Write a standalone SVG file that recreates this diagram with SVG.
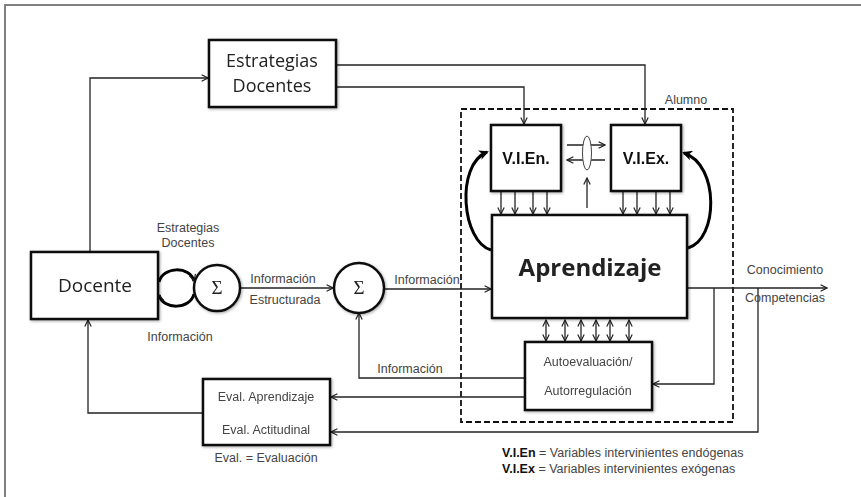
<svg xmlns="http://www.w3.org/2000/svg" width="861" height="497" viewBox="0 0 861 497">
<defs>
<style>
.box{fill:#fff;stroke:#111;stroke-width:2.5}
.ln{fill:none;stroke:#222;stroke-width:1.3}
.thk{fill:none;stroke:#000;stroke-width:3}
.big{font-family:"Open Sans","Noto Sans",sans-serif;fill:#222;text-anchor:middle}
.lbl{font-family:"Liberation Sans",Arial,sans-serif;font-size:12.5px;fill:#444}
.mid{text-anchor:middle}
.bold{font-family:"Liberation Sans",Arial,sans-serif;font-weight:bold;fill:#111;text-anchor:middle}
.sig{font-family:"Liberation Serif","DejaVu Serif",serif;font-size:19px;fill:#222;text-anchor:middle}
</style>
<marker id="a" viewBox="0 0 10 10" refX="9" refY="5" markerWidth="8" markerHeight="8" orient="auto-start-reverse" markerUnits="userSpaceOnUse">
<path d="M1,1 L9,5 L1,9" fill="none" stroke="#222" stroke-width="1.5"/>
</marker>
<marker id="t" viewBox="0 0 10 10" refX="8" refY="5" markerWidth="10" markerHeight="10" orient="auto" markerUnits="userSpaceOnUse">
<path d="M0,0 L10,5 L0,10 L3,5 Z" fill="#000"/>
</marker>
<filter id="sh" x="-10%" y="-10%" width="120%" height="120%">
<feGaussianBlur in="SourceAlpha" stdDeviation="1.5"/>
<feOffset dx="1" dy="1"/>
<feComponentTransfer><feFuncA type="linear" slope="0.35"/></feComponentTransfer>
<feMerge><feMergeNode/><feMergeNode in="SourceGraphic"/></feMerge>
</filter>
</defs>
<rect width="861" height="497" fill="#fff"/>
<path d="M5,497 V5 H861" fill="none" stroke="#808080" stroke-width="2"/>

<g id="alumno">
<rect x="461" y="109" width="272" height="313" fill="none" stroke="#111" stroke-width="1.8" stroke-dasharray="6,3"/>
<text class="lbl mid" x="686" y="104">Alumno</text>
</g>

<g id="connectors">
<path class="ln" d="M90,252 V78 H208" marker-end="url(#a)"/>
<path class="ln" d="M336,65 H645 V124" marker-end="url(#a)"/>
<path class="ln" d="M336,87 H524 V124" marker-end="url(#a)"/>
<path class="ln" d="M567,145 H605" marker-end="url(#a)"/>
<path class="ln" d="M605,160 H567" marker-end="url(#a)"/>
<path class="ln" d="M587,208 V178" marker-end="url(#a)"/>
<ellipse cx="587" cy="153" rx="4.5" ry="17" fill="#fff" stroke="#444" stroke-width="1"/>
<path class="ln" d="M501,192 V214" marker-end="url(#a)"/>
<path class="ln" d="M515,192 V214" marker-end="url(#a)"/>
<path class="ln" d="M533,192 V214" marker-end="url(#a)"/>
<path class="ln" d="M547,192 V214" marker-end="url(#a)"/>
<path class="ln" d="M623,192 V214" marker-end="url(#a)"/>
<path class="ln" d="M637,192 V214" marker-end="url(#a)"/>
<path class="ln" d="M656,192 V214" marker-end="url(#a)"/>
<path class="ln" d="M670,192 V214" marker-end="url(#a)"/>
<path class="thk" d="M491,250 C462,242 455,165 487,152" marker-end="url(#t)"/>
<path class="thk" d="M688,248 C718,240 720,165 684,153" marker-end="url(#t)"/>
<path class="ln" d="M546,320 V341" marker-start="url(#a)" marker-end="url(#a)"/>
<path class="ln" d="M565,320 V341" marker-start="url(#a)" marker-end="url(#a)"/>
<path class="ln" d="M581,320 V341" marker-start="url(#a)" marker-end="url(#a)"/>
<path class="ln" d="M596,320 V341" marker-start="url(#a)" marker-end="url(#a)"/>
<path class="ln" d="M610,320 V341" marker-start="url(#a)" marker-end="url(#a)"/>
<path class="ln" d="M629,320 V341" marker-start="url(#a)" marker-end="url(#a)"/>
<path class="thk" d="M159,282 C163,266 190,266 194,281" marker-end="url(#a)"/>
<path class="thk" d="M194,294 C190,310 163,310 159,295" marker-end="url(#a)"/>
<path class="ln" d="M240,288 H333" marker-end="url(#a)"/>
<path class="ln" d="M383,289 H491" marker-end="url(#a)"/>
<path class="ln" d="M524,378 H359 V313" marker-end="url(#a)"/>
<path class="ln" d="M524,397 H331" marker-end="url(#a)"/>
<path class="ln" d="M688,288 H827" marker-end="url(#a)"/>
<path class="ln" d="M714,288 V384 H653" marker-end="url(#a)"/>
<path class="ln" d="M758,288 V432 H331" marker-end="url(#a)"/>
<path class="ln" d="M202,413 H88 V320" marker-end="url(#a)"/>
</g>

<g id="estrategias" filter="url(#sh)">
<rect class="box" x="209" y="40" width="127" height="67"/>
<text class="big" x="272" y="67" font-size="18">Estrategias</text>
<text class="big" x="272" y="92" font-size="18">Docentes</text>
</g>

<g id="vien" filter="url(#sh)">
<rect class="box" x="491" y="125" width="70" height="66"/>
<text class="bold" x="526" y="164" font-size="16">V.I.En.</text>
</g>

<g id="viex" filter="url(#sh)">
<rect class="box" x="611" y="125" width="70" height="66"/>
<text class="bold" x="646" y="164" font-size="16">V.I.Ex.</text>
</g>

<g id="aprendizaje" filter="url(#sh)">
<rect class="box" x="492" y="215" width="195" height="103"/>
<text class="big" x="590" y="276" font-size="24" font-weight="bold" fill="#111">Aprendizaje</text>
</g>

<g id="autoevaluacion" filter="url(#sh)">
<rect class="box" x="525" y="342" width="127" height="68"/>
<text class="lbl mid" x="588" y="366" font-size="12">Autoevaluación/</text>
<text class="lbl mid" x="588" y="395" font-size="12">Autorregulación</text>
</g>

<g id="docente" filter="url(#sh)">
<rect class="box" x="31" y="252" width="127" height="67"/>
<text class="big" x="95" y="292" font-size="19">Docente</text>
</g>

<g id="sigma1" filter="url(#sh)">
<circle cx="217" cy="288" r="23" fill="#fff" stroke="#111" stroke-width="2.5"/>
<text class="sig" x="217" y="294">Σ</text>
</g>

<g id="sigma2" filter="url(#sh)">
<circle cx="359" cy="288" r="25" fill="#fff" stroke="#111" stroke-width="2.5"/>
<text class="sig" x="359" y="294">Σ</text>
</g>

<g id="eval" filter="url(#sh)">
<rect class="box" x="203" y="379" width="127" height="66"/>
<text class="lbl mid" x="266" y="401">Eval. Aprendizaje</text>
<text class="lbl mid" x="266" y="434">Eval. Actitudinal</text>
</g>

<g id="labels">
<text class="lbl mid" x="188" y="232">Estrategias</text>
<text class="lbl mid" x="188" y="247">Docentes</text>
<text class="lbl mid" x="180" y="341">Información</text>
<text class="lbl mid" x="283" y="283">Información</text>
<text class="lbl mid" x="285" y="304">Estructurada</text>
<text class="lbl mid" x="427" y="284">Información</text>
<text class="lbl mid" x="410" y="373">Información</text>
<text class="lbl mid" x="785" y="274">Conocimiento</text>
<text class="lbl mid" x="785" y="302">Competencias</text>
<text class="lbl mid" x="266" y="462">Eval. = Evaluación</text>
<text class="lbl" x="502" y="457"><tspan font-weight="bold" fill="#111">V.I.En</tspan> = Variables intervinientes endógenas</text>
<text class="lbl" x="502" y="473"><tspan font-weight="bold" fill="#111">V.I.Ex</tspan> = Variables intervinientes exógenas</text>
</g>
</svg>
